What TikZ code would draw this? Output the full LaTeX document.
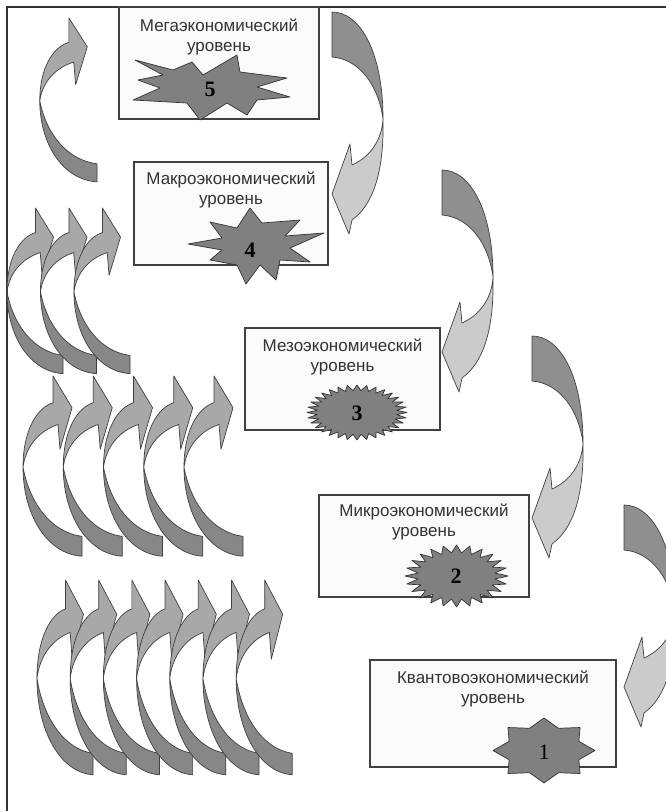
\documentclass[tikz,border=0pt]{standalone}
\usepackage{fontspec}
\setmainfont{Liberation Sans}
\newfontfamily\numfont{Liberation Serif}
\usetikzlibrary{positioning}

\tikzset{
  levelbox/.style={draw=black!75, line width=1.1pt, fill=black!2, inner sep=0pt},
  leveltext/.style={align=center, inner sep=0pt, text=black!80, font=\fontsize{17}{20}\selectfont},
  levelnum/.style={inner sep=0pt, font=\numfont\bfseries\fontsize{22}{22}\selectfont},
  starfill/.style={fill=burstgray, draw=black!80, line width=0.7pt, line join=round},
  backband/.style={draw=black!75, line width=0.7pt, line join=round},
  frontband/.style={draw=black!75, line width=0.7pt, line join=round},
}

% 向左下弯的大箭头（右侧）
\newcommand{\downcurl}[2]{%
  \begin{scope}[shift={({#1},{#2})}]
    \draw[backband, fill=rightdark] (0,0) .. controls (28,0) and (51,40) .. (51,107)
      .. controls (47,75) and (28,47) .. (0,45) -- cycle;
    \draw[frontband, fill=rightlight] (51,107) .. controls (52,150) and (45,190) .. (20,208)
      -- (17,222) -- (0,182) -- (18,132) -- (20,153)
      .. controls (38,145) and (50,128) .. (51,107) -- cycle;
  \end{scope}}

% 向右上弯的小箭头（左侧）
\newcommand{\upcurl}[4]{%
  \begin{scope}[shift={({#1},{#2})}, xscale=#3, yscale=#4]
    \draw[backband, fill=leftdark] (0,182) .. controls (-35,180) and (-59,140) .. (-59,92)
      .. controls (-52,130) and (-30,158) .. (0,162) -- cycle;
    \draw[frontband, fill=leftlight] (-59,92) .. controls (-59,55) and (-45,32) .. (-29,27)
      -- (-29,0) -- (-10,32) -- (-22,74) -- (-24,49)
      .. controls (-42,55) and (-56,70) .. (-59,92) -- cycle;
  \end{scope}}

% 椭圆形锯齿星
\newcommand{\burst}[6]{%
  \begin{scope}[shift={({#1},{#2})}]
    \draw[starfill] (0:#3 and #4) \foreach \idx in {1,...,#5} {
      -- ({(\idx-0.5)*360/#5}:{#6*#3} and {#6*#4}) -- ({\idx*360/#5}:#3 and #4) } -- cycle;
  \end{scope}}

\begin{document}
\begin{tikzpicture}[x=1pt, y=-1pt]

  % 定义颜色
  \definecolor{burstgray}{RGB}{128, 128, 128}
  \definecolor{rightdark}{RGB}{143, 143, 143}
  \definecolor{rightlight}{RGB}{203, 203, 203}
  \definecolor{leftdark}{RGB}{135, 135, 135}
  \definecolor{leftlight}{RGB}{168, 168, 168}

  \clip (0,0) rectangle (666,811);
  \fill[white] (0,0) rectangle (666,811);

  % 外框
  \draw[black!80, line width=1.1pt] (7,811) -- (7,7) -- (666,7);

  % 五个层次的框
  \node[levelbox, minimum width=200pt, minimum height=112pt] (b5) at (219,63) {};
  \node[levelbox, minimum width=194pt, minimum height=103pt] (b4) at (231,213.5) {};
  \node[levelbox, minimum width=195pt, minimum height=102pt] (b3) at (342.5,379) {};
  \node[levelbox, minimum width=210pt, minimum height=102pt] (b2) at (424,546) {};
  \node[levelbox, minimum width=246pt, minimum height=107pt] (b1) at (493,713.5) {};

  \node[leveltext, below=12pt of b5.north] (t5) {Мегаэкономический\\уровень};
  \node[leveltext, below=10pt of b4.north] (t4) {Макроэкономический\\уровень};
  \node[leveltext, below=11pt of b3.north] (t3) {Мезоэкономический\\уровень};
  \node[leveltext, below=9pt of b2.north] (t2) {Микроэкономический\\уровень};
  \node[leveltext, below=11pt of b1.north] (t1) {Квантовоэкономический\\уровень};

  % 星形
  \begin{scope}[shift={(210,88)}]
    \draw[starfill] (-75,-28) -- (-37,-18) -- (-18,-26) -- (-7,-13) -- (27,-33) -- (30,-16)
      -- (77,-10) -- (47,-1) -- (80,9) -- (47,12) -- (37,27) -- (17,15) -- (-10,32)
      -- (-23,15) -- (-77,12) -- (-50,0) -- (-72,-8) -- (-47,-13) -- cycle;
  \end{scope}
  \begin{scope}[shift={(252,248)}]
    \draw[starfill] (-2,-40) -- (10,-25) -- (48,-28) -- (33,-12) -- (72,-15) -- (38,0)
      -- (58,14) -- (28,12) -- (24,32) -- (8,17) -- (-6,36) -- (-15,17) -- (-42,12)
      -- (-30,2) -- (-64,-4) -- (-30,-10) -- (-42,-26) -- (-15,-20) -- cycle;
  \end{scope}
  \burst{357}{412.5}{50}{27.5}{32}{0.8}
  \burst{456.5}{576}{51.5}{31}{24}{0.75}
  \burst{544}{750.5}{51}{32.5}{8}{0.74}

  \node[levelnum] (n5) at (210,89) {5};
  \node[levelnum] (n4) at (250,250) {4};
  \node[levelnum] (n3) at (357,413) {3};
  \node[levelnum] (n2) at (456,576) {2};
  \node[levelnum, font=\numfont\fontsize{22}{22}\selectfont] (n1) at (544,752) {1};

  % 右侧的大箭头
  \downcurl{332}{12}
  \downcurl{442}{170}
  \downcurl{532}{336}
  \downcurl{624}{505}

  % 左侧的小箭头
  \upcurl{97}{18}{0.97}{0.9}
  \foreach \i in {0,1,2} {
    \upcurl{63+33.5*\i}{208}{0.95}{0.91}
  }
  \foreach \i in {0,...,4} {
    \upcurl{82+40.25*\i}{376}{1}{0.99}
  }
  \foreach \i in {0,...,6} {
    \upcurl{93+33.2*\i}{580}{0.95}{1.07}
  }

\end{tikzpicture}
\end{document}
